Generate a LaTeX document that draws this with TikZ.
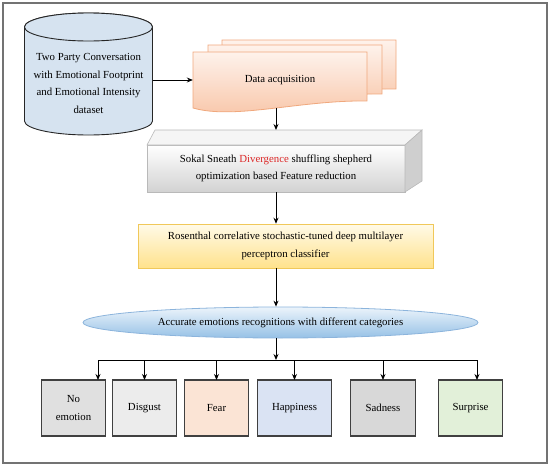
\documentclass[tikz,border=0pt]{standalone}
\usepackage{fontspec}
\setmainfont{Liberation Serif}
\usetikzlibrary{positioning,arrows.meta,calc,shapes.geometric,backgrounds}

\definecolor{dbblue}{RGB}{214,227,240}
\definecolor{doctop}{RGB}{254,242,235}
\definecolor{docbot}{RGB}{248,196,166}
\definecolor{docline}{RGB}{240,168,125}
\definecolor{clftop}{RGB}{255,250,232}
\definecolor{clfbot}{RGB}{255,226,140}
\definecolor{clfline}{RGB}{240,200,90}
\definecolor{rectop}{RGB}{236,244,251}
\definecolor{recbot}{RGB}{150,193,230}
\definecolor{recline}{RGB}{140,180,220}
\definecolor{divred}{RGB}{220,40,40}
\definecolor{noemogray}{RGB}{224,224,224}
\definecolor{disgustgray}{RGB}{236,236,236}
\definecolor{fearpeach}{RGB}{251,228,213}
\definecolor{happyblue}{RGB}{218,227,243}
\definecolor{sadgray}{RGB}{216,216,216}
\definecolor{surprisegreen}{RGB}{226,240,217}

\begin{document}
\begin{tikzpicture}[
    x=1pt, y=-1pt,
    >={Stealth[length=6pt,width=5pt]},
    every node/.style={font=\fontsize{10.8}{17.6}\selectfont},
    flow/.style={->, line width=0.9pt},
    cyl/.style={draw=black!85, line width=0.9pt, fill=dbblue},
    doc/.style={draw=docline, line width=0.8pt, top color=doctop, bottom color=docbot},
    face/.style={draw=gray!55, line width=0.6pt},
    fold/.style={append after command={\pgfextra{%
      \begin{pgfinterruptpath}
        \fill[white] ([xshift=-10pt,yshift=-1pt]\tikzlastnode.south east) -- ([xshift=1pt,yshift=-1pt]\tikzlastnode.south east) -- ([xshift=1pt,yshift=10pt]\tikzlastnode.south east) -- cycle;
        \draw[line width=1pt, draw=black!75, fill=gray!55, line join=round] ([xshift=-9pt]\tikzlastnode.south east) -- ([yshift=9pt]\tikzlastnode.south east) .. controls ([xshift=-4pt,yshift=5pt]\tikzlastnode.south east) and ([xshift=-6pt,yshift=4pt]\tikzlastnode.south east) .. ([xshift=-9pt]\tikzlastnode.south east) -- cycle;
      \end{pgfinterruptpath}}}},
    emo/.style={draw=black!75, line width=1.1pt, outer sep=0pt, minimum width=64pt, minimum height=56pt, align=center, fold}
  ]
    \useasboundingbox (0,0) rectangle (550,466);
    \draw[black!55, line width=1.6pt] (3,3) rectangle (547,463);

    % dataset drum
    \path[cyl] (24.5,27) -- (24.5,121) arc[start angle=180, end angle=360, x radius=64pt, y radius=14pt] -- (152.5,27) arc[start angle=0, end angle=180, x radius=64pt, y radius=14pt] -- cycle;
    \draw[cyl] (88.5,27) ellipse[x radius=64pt, y radius=14pt];
    \node[minimum width=128pt, align=center] (db) at (88.5,83.5) {Two Party Conversation\\with Emotional Footprint\\and Emotional Intensity\\dataset};

    \node[minimum width=174pt, minimum height=56pt] (acq) at (280,80) {Data acquisition};
    \begin{scope}[on background layer]
      \path[doc, shift={(29,-12)}] (193,52) -- (367,52) -- (367,101) .. controls (300,100) and (235,120) .. (193,108) -- cycle;
      \path[doc, shift={(15,-7)}] (193,52) -- (367,52) -- (367,101) .. controls (300,100) and (235,120) .. (193,108) -- cycle;
      \path[doc] (193,52) -- (367,52) -- (367,101) .. controls (300,100) and (235,120) .. (193,108) -- cycle;
    \end{scope}

    \node[face, top color=white, bottom color=gray!35, outer sep=0pt, minimum width=258pt, minimum height=47pt, align=center] (feat) at (276,168.5) {Sokal Sneath \textcolor{divred}{Divergence} shuffling shepherd\\optimization based Feature reduction};
    \draw[face, fill=gray!8] (feat.north west) -- ([xshift=8pt,yshift=15pt]feat.north west) -- ([xshift=17pt,yshift=15pt]feat.north east) -- (feat.north east) -- cycle;
    \draw[face, fill=gray!38] (feat.north east) -- ([xshift=17pt,yshift=15pt]feat.north east) -- ([xshift=17pt,yshift=11pt]feat.south east) -- (feat.south east) -- cycle;

    \node[draw=clfline, line width=0.6pt, top color=clftop, bottom color=clfbot, minimum width=295pt, minimum height=44pt, align=center] (clf) at (285.5,246) {Rosenthal correlative stochastic-tuned deep multilayer\\perceptron classifier};

    \node[ellipse, draw=recline, line width=0.8pt, top color=rectop, bottom color=recbot, minimum width=395pt, minimum height=31pt] (rec) at (280.5,322.5) {Accurate emotions recognitions with different categories};

    \node[emo, fill=noemogray] (noemo) at (73.5,408) {No\\emotion};
    \node[emo, fill=disgustgray, right=7pt of noemo] (disgust) {Disgust};
    \node[emo, fill=fearpeach, right=8pt of disgust] (fear) {Fear};
    \node[emo, fill=happyblue, minimum width=74pt, right=9pt of fear] (happy) {Happiness};
    \node[emo, fill=sadgray, minimum width=65pt, right=19pt of happy] (sad) {Sadness};
    \node[emo, fill=surprisegreen, right=23pt of sad] (surprise) {Surprise};

    \coordinate (bus) at (276,360);
    \coordinate (busL) at (98,360);
    \coordinate (busR) at (477,360);

    \draw[flow] (db.east |- acq.west) -- (acq.west);
    \draw[flow] (acq.south -| feat.north) -- ([yshift=15pt]feat.north);
    \draw[flow] (feat.south) -- (feat.south |- clf.north);
    \draw[flow] (feat.south |- clf.south) -- (feat.south |- rec.north);
    \draw[flow] (feat.south |- rec.south) -- (bus);
    \draw[line width=0.9pt] (busL) -- (busR);
    \draw[flow] (busL) -- (busL |- noemo.north);
    \draw[flow] (disgust.north |- bus) -- (disgust.north);
    \draw[flow] (fear.north |- bus) -- (fear.north);
    \draw[flow] (happy.north |- bus) -- (happy.north);
    \draw[flow] (sad.north |- bus) -- (sad.north);
    \draw[flow] (busR) -- (busR |- surprise.north);
  \end{tikzpicture}
\end{document}
